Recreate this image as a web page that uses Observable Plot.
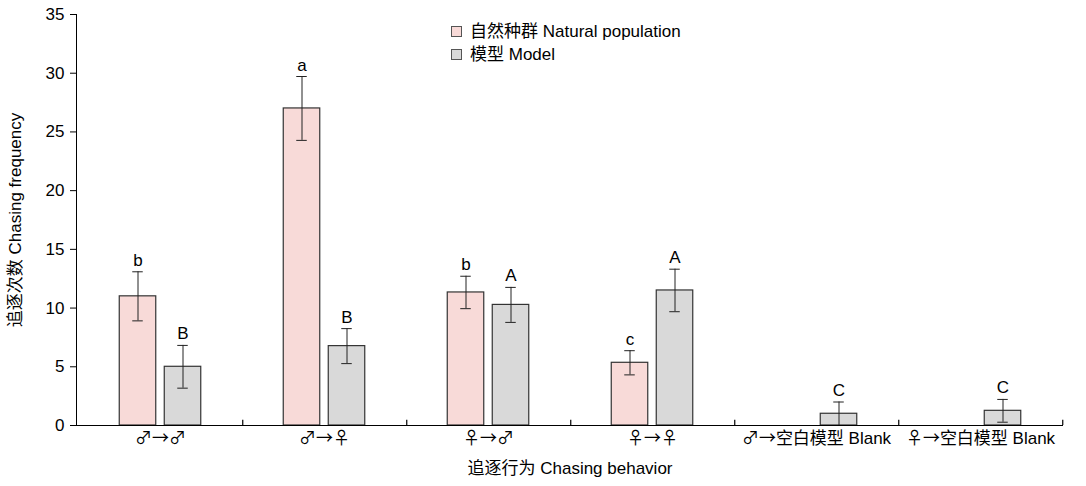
<!DOCTYPE html>
<html><head><meta charset="utf-8">
<script src="https://cdn.jsdelivr.net/npm/d3@7"></script>
<script src="https://cdn.jsdelivr.net/npm/@observablehq/plot@0.6"></script>
<style>
@font-face{font-family:"SymCJK";src:local("Noto Sans CJK SC"),local("Noto Sans CJK SC Regular"),local("NotoSansCJKsc-Regular");unicode-range:U+2190-2199,U+2640-2642;}
body{margin:0;background:#fff;}
#wrap{position:relative;width:1086px;height:486px;font-family:"Liberation Sans","Noto Sans CJK SC",sans-serif;}
.legend{position:absolute;left:451px;top:20px;font-size:17px;line-height:23px;color:#000;}
.legend .row{display:flex;align-items:center;white-space:nowrap;}
.legend .sw{display:inline-block;width:9px;height:9px;border:1px solid #555;margin-right:8px;}
</style></head>
<body><div id="wrap"></div>
<script>
const categories = ["♂→♂","♂→♀","♀→♂","♀→♀","♂→空白模型 Blank","♀→空白模型 Blank"];
const seriesNames = ["自然种群 Natural population","模型 Model"];
const seriesColors = ["#f8dad8","#d9d9d9"];
const naturalMean = [11, 27, 11.33, 5.34, 0, 0];
const naturalSE = [2.09, 2.72, 1.38, 1.03, null, null];
const naturalLetters = ["b","a","b","c","",""];
const modelMean = [5, 6.76, 10.27, 11.5, 1, 1.25];
const modelSE = [1.82, 1.49, 1.49, 1.81, 1, 0.97];
const modelLetters = ["B","B","A","A","C","C"];
const yTicks = [0,5,10,15,20,25,30,35];

const W = 1086, H = 486, mL = 76, mR = 23, mT = 14, mB = 61;
const bw = (W - mL - mR) / categories.length;
const barW = 37, gap = 8;
const off = gap/2 + barW/2;
const capW = 11;

function rows(means, ses, letters, s) {
  return categories.map((c, i) => ({cat: c, series: seriesNames[s], mean: means[i], se: ses[i], letter: letters[i],
    lo: ses[i] == null ? null : means[i] - ses[i], hi: ses[i] == null ? null : means[i] + ses[i]}));
}
const nat = rows(naturalMean, naturalSE, naturalLetters, 0);
const mod = rows(modelMean, modelSE, modelLetters, 1);
const font = '"SymCJK","Liberation Sans","Noto Sans CJK SC",sans-serif';

function seriesMarks(data, s) {
  const sign = s === 0 ? -1 : 1;
  const inL = s === 0 ? bw/2 - gap/2 - barW : bw/2 + gap/2;
  const inR = bw - inL - barW;
  const err = data.filter(d => d.se != null);
  const capIn = (bw - capW) / 2;
  return [
    Plot.barY(data, {x: "cat", y: "mean", fill: seriesColors[s], stroke: "#333", strokeWidth: 1.2, insetLeft: inL, insetRight: inR}),
    Plot.ruleX(err, {x: "cat", y1: "lo", y2: "hi", dx: sign*off, stroke: "#222", strokeWidth: 1}),
    Plot.tickY(err, {x: "cat", y: "hi", dx: sign*off, insetLeft: capIn, insetRight: capIn, stroke: "#222", strokeWidth: 1}),
    Plot.tickY(err, {x: "cat", y: "lo", dx: sign*off, insetLeft: capIn, insetRight: capIn, stroke: "#222", strokeWidth: 1}),
    Plot.text(data.filter(d => d.letter), {x: "cat", y: d => d.hi ?? d.mean, text: "letter", dx: sign*off, dy: -6, lineAnchor: "bottom", fontSize: 17, fill: "#000"})
  ];
}

const chart = Plot.plot({
  width: W, height: H,
  marginLeft: mL, marginRight: mR, marginTop: mT, marginBottom: mB,
  style: {fontFamily: font, fontSize: "17px", color: "#000", background: "#fff"},
  x: {domain: categories, padding: 0, tickSize: 0, tickPadding: 6, label: "追逐行为 Chasing behavior", labelAnchor: "center", labelOffset: 48, labelArrow: "none"},
  y: {domain: [0, 35], ticks: yTicks, tickSize: 6, tickPadding: 6, line: true, label: "追逐次数 Chasing frequency", labelAnchor: "center", labelOffset: 68, labelArrow: "none"},
  marks: [
    ...seriesMarks(nat, 0),
    ...seriesMarks(mod, 1),
    Plot.ruleY([0], {stroke: "#000", strokeWidth: 1.2}),
    Plot.ruleX(categories, {x: d => d, y1: 0, y2: 0.45, dx: bw/2, stroke: "#000", strokeWidth: 1.2})
  ]
});
const wrap = document.getElementById("wrap");
wrap.appendChild(chart);
const leg = document.createElement("div");
leg.className = "legend";
seriesNames.forEach((n, i) => {
  const r = document.createElement("div"); r.className = "row";
  const sw = document.createElement("span"); sw.className = "sw"; sw.style.background = seriesColors[i];
  r.appendChild(sw); r.appendChild(document.createTextNode(n)); leg.appendChild(r);
});
wrap.appendChild(leg);
</script>
</body></html>
